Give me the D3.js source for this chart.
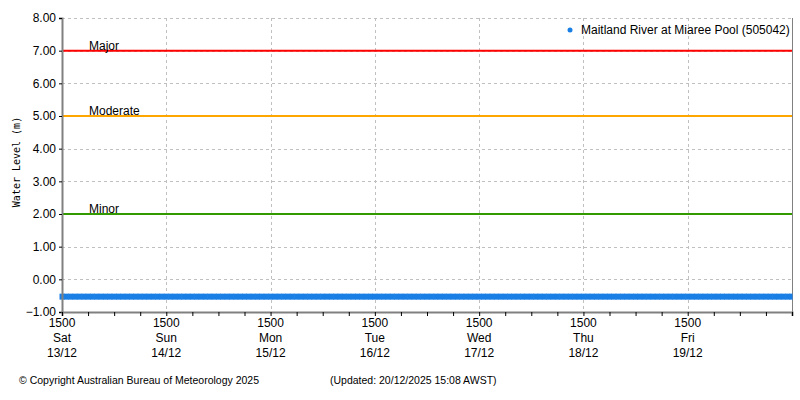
<!DOCTYPE html>
<html>
<head>
<meta charset="utf-8">
<script src="https://cdn.jsdelivr.net/npm/d3@7"></script>
<style>
  body { margin: 0; background: #fff; }
  svg text { font-family: 'Liberation Sans', Arial, sans-serif; }
</style>
</head>
<body>
<svg class="hydro" width="800" height="400"></svg>
<script>
// series: hourly water level (m), from 1500 Sat 13/12 to 1500 Sat 20/12
const startTime = new Date(2025, 11, 13, 15, 0);
const endTime = new Date(2025, 11, 20, 15, 0);
const levels = [
  -0.53, -0.53, -0.53, -0.53, -0.53, -0.53, -0.53, -0.53, -0.53, -0.53, -0.53, -0.53,
  -0.53, -0.53, -0.53, -0.53, -0.53, -0.53, -0.53, -0.53, -0.53, -0.53, -0.53, -0.53,
  -0.53, -0.53, -0.53, -0.53, -0.53, -0.53, -0.53, -0.53, -0.53, -0.53, -0.53, -0.53,
  -0.53, -0.53, -0.53, -0.53, -0.53, -0.53, -0.53, -0.53, -0.53, -0.53, -0.53, -0.53,
  -0.53, -0.53, -0.53, -0.53, -0.53, -0.53, -0.53, -0.53, -0.53, -0.53, -0.53, -0.53,
  -0.53, -0.53, -0.53, -0.53, -0.53, -0.53, -0.53, -0.53, -0.53, -0.53, -0.53, -0.53,
  -0.53, -0.53, -0.53, -0.53, -0.53, -0.53, -0.53, -0.53, -0.53, -0.53, -0.53, -0.53,
  -0.53, -0.53, -0.53, -0.53, -0.53, -0.53, -0.53, -0.53, -0.53, -0.53, -0.53, -0.53,
  -0.53, -0.53, -0.53, -0.53, -0.53, -0.53, -0.53, -0.53, -0.53, -0.53, -0.53, -0.53,
  -0.53, -0.53, -0.53, -0.53, -0.53, -0.53, -0.53, -0.53, -0.53, -0.53, -0.53, -0.53,
  -0.53, -0.53, -0.53, -0.53, -0.53, -0.53, -0.53, -0.53, -0.53, -0.53, -0.53, -0.53,
  -0.53, -0.53, -0.53, -0.53, -0.53, -0.53, -0.53, -0.53, -0.53, -0.53, -0.53, -0.53,
  -0.53, -0.53, -0.53, -0.53, -0.53, -0.53, -0.53, -0.53, -0.53, -0.53, -0.53, -0.53,
  -0.53, -0.53, -0.53, -0.53, -0.53, -0.53, -0.53, -0.53, -0.53, -0.53, -0.53, -0.53,
  -0.53
];

// flood classification levels
const floodNames = ['Major', 'Moderate', 'Minor'];
const floodLevels = [7.0, 5.0, 2.0];
const floodColors = ['#ff0000', '#ffa500', '#339900'];

// x tick labels
const dayTimes = ['1500', '1500', '1500', '1500', '1500', '1500', '1500'];
const dayNames = ['Sat', 'Sun', 'Mon', 'Tue', 'Wed', 'Thu', 'Fri'];
const dayDates = ['13/12', '14/12', '15/12', '16/12', '17/12', '18/12', '19/12'];

const yTicks = [8, 7, 6, 5, 4, 3, 2, 1, 0, -1];

const margin = { top: 18, right: 8, bottom: 88, left: 62 };
const width = 800 - margin.left - margin.right;
const height = 400 - margin.top - margin.bottom;

const svg = d3.select('svg.hydro');
const g = svg.append('g').attr('transform', `translate(${margin.left}, ${margin.top})`);

const x = d3.scaleTime().domain([startTime, endTime]).range([0, width]);
const y = d3.scaleLinear().domain([-1, 8]).range([height, 0]);

const dayTicks = dayNames.map((d, i) => d3.timeDay.offset(startTime, i));
const minorTicks = d3.range(0, 7 * 4 + 1).map(i => d3.timeHour.offset(startTime, i * 6));

// grid
g.selectAll('line.hgrid')
  .data(yTicks)
  .enter()
  .append('line')
  .attr('class', 'hgrid')
  .attr('x1', 0).attr('x2', width)
  .attr('y1', d => Math.round(y(d)) + 0.5).attr('y2', d => Math.round(y(d)) + 0.5)
  .style('stroke', '#c0c0c0')
  .style('stroke-dasharray', '3,3');

g.selectAll('line.vgrid')
  .data(dayTicks)
  .enter()
  .append('line')
  .attr('class', 'vgrid')
  .attr('x1', d => Math.round(x(d)) + 0.5).attr('x2', d => Math.round(x(d)) + 0.5)
  .attr('y1', 0).attr('y2', height)
  .style('stroke', '#c0c0c0')
  .style('stroke-dasharray', '3,3');

// frame (right side)
g.append('line')
  .attr('x1', width + 0.5).attr('x2', width + 0.5)
  .attr('y1', 0).attr('y2', height)
  .style('stroke', '#808080');

// flood level lines
g.selectAll('line.flood')
  .data(floodLevels)
  .enter()
  .append('line')
  .attr('class', 'flood')
  .attr('x1', 0).attr('x2', width)
  .attr('y1', d => y(d)).attr('y2', d => y(d))
  .style('stroke', (d, i) => floodColors[i])
  .style('stroke-width', 2);

g.selectAll('text.floodLab')
  .data(floodLevels)
  .enter()
  .append('text')
  .attr('class', 'floodLab')
  .attr('x', 27)
  .attr('y', d => y(d) - 1)
  .text((d, i) => floodNames[i])
  .style('font-size', '12px')
  .style('fill', '#000');

// data points (square markers, dense enough to read as a band)
g.selectAll('rect.obs')
  .data(levels)
  .enter()
  .append('rect')
  .attr('class', 'obs')
  .attr('x', (d, i) => x(d3.timeHour.offset(startTime, i)) - 2.5)
  .attr('y', d => y(d) - 3)
  .attr('width', (d, i) => i == levels.length - 1 ? 3 : 5)
  .attr('height', 6)
  .style('fill', '#1a7fe5');

// y axis
const yAxis = g.append('g')
  .call(d3.axisLeft(y).tickValues(yTicks).tickSize(3).tickFormat(d3.format('.2f')));
yAxis.select('.domain').style('stroke', '#808080').style('stroke-width', 2);
yAxis.selectAll('.tick line').style('stroke', '#000');
yAxis.selectAll('.tick text')
  .attr('x', -6)
  .style('font-size', '12px')
  .style('font-family', "'Liberation Sans', Arial, sans-serif")
  .style('fill', '#000');

// x axis
const xAxis = g.append('g')
  .attr('transform', `translate(0, ${height})`)
  .call(d3.axisBottom(x).tickValues(minorTicks).tickSize(4).tickFormat(''));
xAxis.select('.domain').style('stroke', '#808080').style('stroke-width', 2);
xAxis.selectAll('.tick line').style('stroke', '#000');

const xLabs = g.selectAll('text.xlab')
  .data(dayTicks)
  .enter()
  .append('text')
  .attr('class', 'xlab')
  .attr('x', d => x(d))
  .attr('y', height + 15)
  .style('font-size', '12px')
  .style('text-anchor', 'middle')
  .style('fill', '#000');

xLabs.selectAll('tspan')
  .data((d, i) => [dayTimes[i], dayNames[i], dayDates[i]])
  .enter()
  .append('tspan')
  .attr('x', function() { return d3.select(this.parentNode).attr('x'); })
  .attr('dy', (d, i) => i == 0 ? 0 : 15)
  .text(d => d);

// y axis title
svg.append('text')
  .attr('transform', 'translate(20, 162) rotate(-90)')
  .style('text-anchor', 'middle')
  .style('font-family', "'DejaVu Sans Mono', monospace")
  .style('font-size', '10px')
  .style('fill', '#000')
  .text('Water Level (m)');

// legend
svg.append('circle')
  .attr('cx', 570).attr('cy', 30).attr('r', 2.5)
  .style('fill', '#1a7fe5');
svg.append('text')
  .attr('x', 581).attr('y', 34)
  .style('font-size', '12px')
  .style('fill', '#000')
  .text('Maitland River at Miaree Pool (505042)');

// footer
svg.append('text')
  .attr('x', 19).attr('y', 384)
  .style('font-size', '10.5px')
  .style('fill', '#000')
  .text('\u00a9 Copyright Australian Bureau of Meteorology 2025');
svg.append('text')
  .attr('x', 330).attr('y', 384)
  .style('font-size', '10.5px')
  .style('fill', '#000')
  .text('(Updated: 20/12/2025 15:08 AWST)');
</script>
</body>
</html>
